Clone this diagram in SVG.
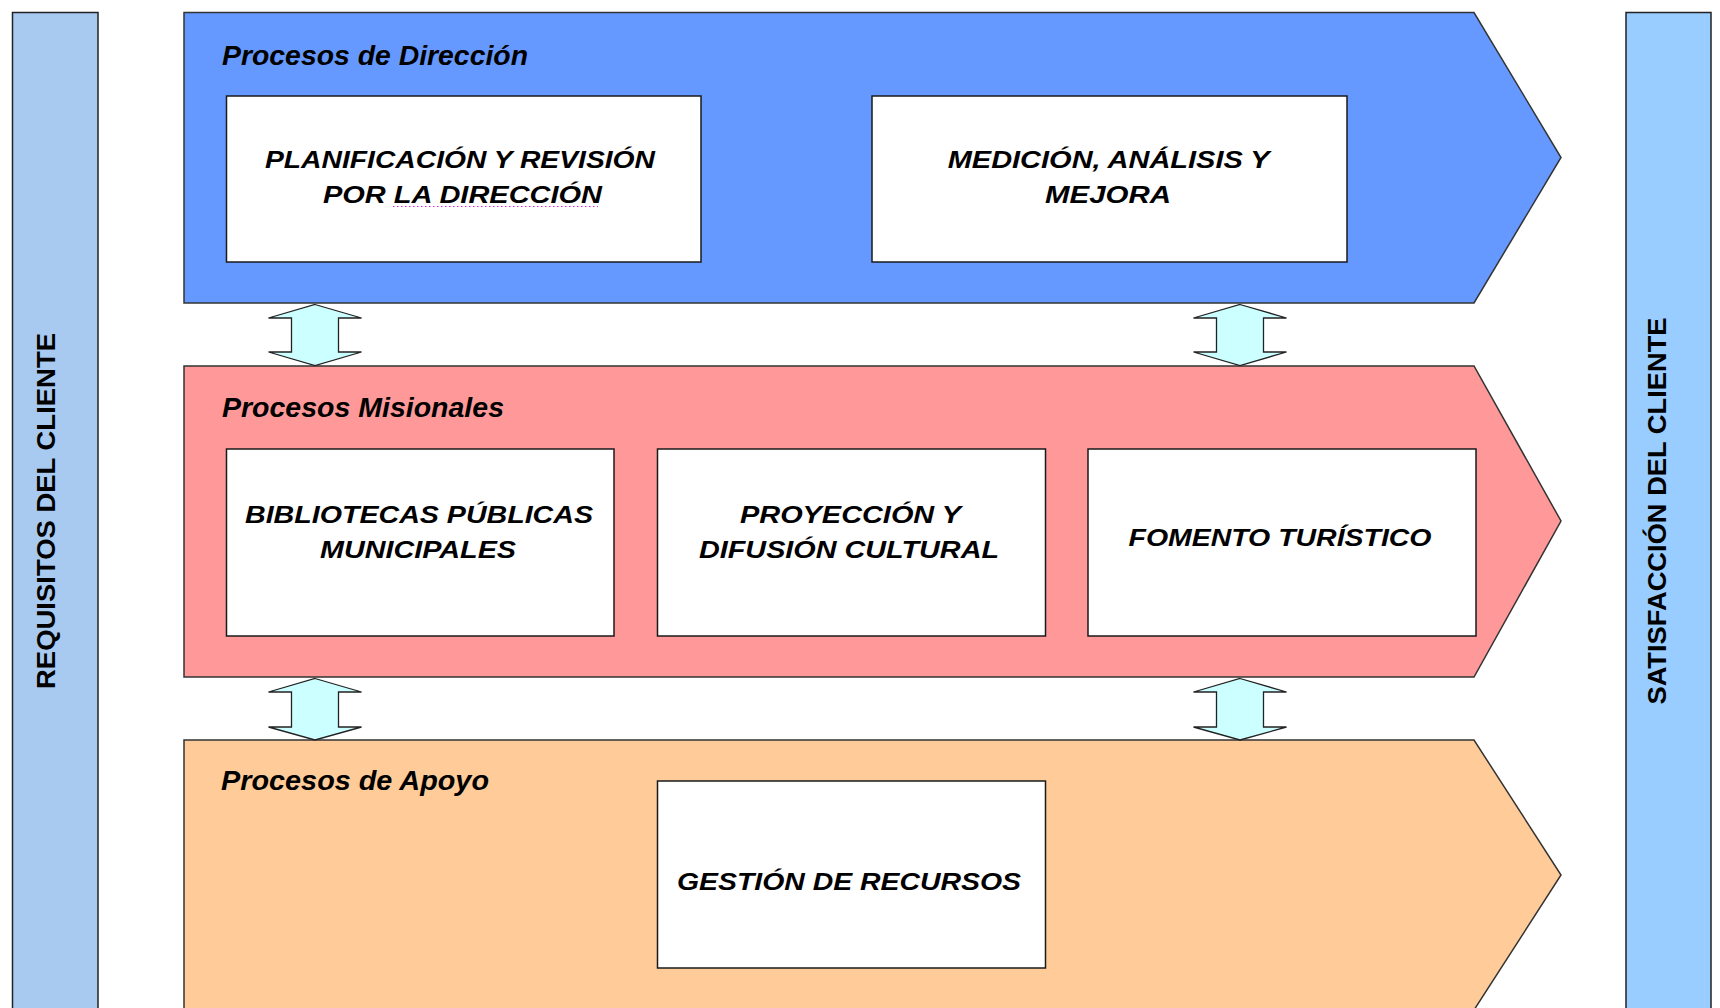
<svg xmlns="http://www.w3.org/2000/svg" width="1720" height="1008" viewBox="0 0 1720 1008">
<style>
.bar{stroke:#222;stroke-width:1.5}
.band{stroke:#333;stroke-width:1.5}
.box{fill:#fff;stroke:#1a1a1a;stroke-width:1.5}
.title{font-family:"Liberation Sans",Arial,sans-serif;font-weight:bold;font-style:italic;font-size:28px;fill:#000}
.lbl{font-family:"Liberation Sans",Arial,sans-serif;font-weight:bold;font-style:italic;font-size:23px;fill:#000;text-anchor:middle}
.side{font-family:"Liberation Sans",Arial,sans-serif;font-weight:bold;font-size:26px;fill:#000;text-anchor:middle}
.arr{fill:#CCFFFF;stroke:#222;stroke-width:1.3;stroke-linejoin:miter}
</style>
<rect width="1720" height="1008" fill="#fff"/>

<g id="requisitos">
<rect class="bar" x="12.5" y="12.5" width="85.5" height="1000" fill="#A9CAF0"/>
<text class="side" transform="translate(55,511) rotate(-90)" textLength="356" lengthAdjust="spacingAndGlyphs">REQUISITOS DEL CLIENTE</text>
</g>

<g id="satisfaccion">
<rect class="bar" x="1626" y="12.5" width="85" height="1000" fill="#99CCFF"/>
<text class="side" transform="translate(1666,511) rotate(-90)" textLength="387" lengthAdjust="spacingAndGlyphs">SATISFACCIÓN DEL CLIENTE</text>
</g>

<g id="procesos-direccion">
<polygon class="band" fill="#6699FF" points="184,12.5 1474,12.5 1561,157.5 1474,303 184,303"/>
<text class="title" x="222" y="65" textLength="306" lengthAdjust="spacingAndGlyphs">Procesos de Dirección</text>
</g>

<g id="procesos-misionales">
<polygon class="band" fill="#FF9999" points="184,366 1474,366 1561,521 1474,677 184,677"/>
<text class="title" x="222" y="417" textLength="282" lengthAdjust="spacingAndGlyphs">Procesos Misionales</text>
</g>

<g id="procesos-apoyo">
<polygon class="band" fill="#FFCC99" points="184,740 1474,740 1561,875 1474,1010 184,1010"/>
<text class="title" x="221" y="790" textLength="268" lengthAdjust="spacingAndGlyphs">Procesos de Apoyo</text>
</g>

<g id="planificacion">
<rect class="box" x="226.5" y="96" width="474.5" height="166"/>
<text class="lbl" x="460" y="168" textLength="390" lengthAdjust="spacingAndGlyphs">PLANIFICACIÓN Y REVISIÓN</text>
<text class="lbl" x="462.5" y="203" textLength="279" lengthAdjust="spacingAndGlyphs">POR LA DIRECCIÓN</text>
<line x1="393" y1="206.5" x2="598" y2="206.5" stroke="#E020E0" stroke-width="1.2" stroke-dasharray="1.5,2.5"/>
</g>

<g id="medicion">
<rect class="box" x="872" y="96" width="475" height="166"/>
<text class="lbl" x="1108.7" y="168" textLength="322" lengthAdjust="spacingAndGlyphs">MEDICIÓN, ANÁLISIS Y</text>
<text class="lbl" x="1108" y="203" textLength="126" lengthAdjust="spacingAndGlyphs">MEJORA</text>
</g>

<g id="bibliotecas">
<rect class="box" x="226.5" y="449" width="387.5" height="187"/>
<text class="lbl" x="419" y="523" textLength="348" lengthAdjust="spacingAndGlyphs">BIBLIOTECAS PÚBLICAS</text>
<text class="lbl" x="418" y="558" textLength="196" lengthAdjust="spacingAndGlyphs">MUNICIPALES</text>
</g>

<g id="proyeccion">
<rect class="box" x="657.5" y="449" width="388" height="187"/>
<text class="lbl" x="850.5" y="523" textLength="221" lengthAdjust="spacingAndGlyphs">PROYECCIÓN Y</text>
<text class="lbl" x="849" y="558" textLength="300" lengthAdjust="spacingAndGlyphs">DIFUSIÓN CULTURAL</text>
</g>

<g id="fomento">
<rect class="box" x="1088" y="449" width="388" height="187"/>
<text class="lbl" x="1280" y="546" textLength="303" lengthAdjust="spacingAndGlyphs">FOMENTO TURÍSTICO</text>
</g>

<g id="gestion">
<rect class="box" x="657.5" y="781" width="388" height="187"/>
<text class="lbl" x="849" y="890" textLength="344" lengthAdjust="spacingAndGlyphs">GESTIÓN DE RECURSOS</text>
</g>

<g id="connectors">
<polygon class="arr" points="315,304.5 361.5,318 338.5,318 338.5,352 361.5,352 315,365.5 268.5,352 291.5,352 291.5,318 268.5,318"/>
<polygon class="arr" points="1240,304.5 1286.5,318 1263.5,318 1263.5,352 1286.5,352 1240,365.5 1193.5,352 1216.5,352 1216.5,318 1193.5,318"/>
<polygon class="arr" points="315,678.5 361.5,692 338.5,692 338.5,727 361.5,727 315,740 268.5,727 291.5,727 291.5,692 268.5,692"/>
<polygon class="arr" points="1240,678.5 1286.5,692 1263.5,692 1263.5,727 1286.5,727 1240,740 1193.5,727 1216.5,727 1216.5,692 1193.5,692"/>
</g>
</svg>
